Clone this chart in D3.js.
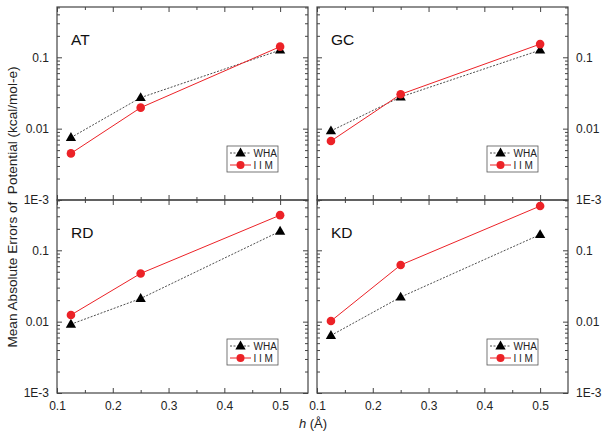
<!DOCTYPE html>
<html><head><meta charset="utf-8">
<script src="https://cdn.jsdelivr.net/npm/d3@7/dist/d3.min.js"></script>
<style>body{margin:0;background:#fff}svg{display:block}text{font-family:"Liberation Sans",Arial,sans-serif}</style>
</head><body>
<svg id="c" width="605" height="438"></svg>
<script>
const hValues = [0.125, 0.25, 0.5];
const panelNames = ["AT", "GC", "RD", "KD"];
const seriesNames = ["WHA", "I I M"];
const whaAT = [0.0075, 0.0272, 0.126];
const iimAT = [0.0045, 0.0197, 0.141];
const whaGC = [0.0093, 0.0278, 0.126];
const iimGC = [0.0067, 0.0303, 0.153];
const whaRD = [0.0092, 0.0211, 0.185];
const iimRD = [0.0124, 0.0474, 0.311];
const whaKD = [0.0064, 0.0221, 0.166];
const iimKD = [0.0102, 0.0622, 0.417];
const xTicks = [0.1, 0.2, 0.3, 0.4, 0.5];
const yTicks = [0.001, 0.01, 0.1];
const yTickLabels = ["1E-3", "0.01", "0.1"];

const whaData = [whaAT, whaGC, whaRD, whaKD];
const iimData = [iimAT, iimGC, iimRD, iimKD];

const svg = d3.select("#c");
const red = "#ec2227";
const frame = "#444";

const cols = [[57, 308], [317, 568]];
const rows = [[7, 200], [200, 393]];

panelNames.forEach((name, i) => {
  const c = i % 2, r = Math.floor(i / 2);
  const x = d3.scaleLinear().domain([0.1, 0.55]).range(cols[c]);
  const y = d3.scaleLog().domain([0.001, 0.507]).range([rows[r][1], rows[r][0]]);
  const g = svg.append("g");
  const x0 = cols[c][0], x1 = cols[c][1], y0 = rows[r][0], y1 = rows[r][1];

  const xMinor = d3.range(0.15, 0.55, 0.1);
  const minorY = y.ticks().filter(v => yTicks.every(t => Math.abs(v - t) / t > 1e-6));

  function addAxis(axisFn, scale, pos, major, minor, labels, fmt) {
    const a1 = g.append("g").attr("transform", pos);
    a1.call(axisFn(scale).tickValues(minor).tickSize(-3).tickFormat(""));
    const a2 = g.append("g").attr("transform", pos);
    a2.call(axisFn(scale).tickValues(major).tickSize(-5).tickPadding(8).tickFormat(labels ? fmt : ""));
    [a1, a2].forEach(a => {
      a.select(".domain").remove();
      a.selectAll(".tick line").attr("stroke", frame).attr("stroke-width", 1);
      a.selectAll(".tick text").attr("font-size", 12).attr("fill", "#222")
        .attr("font-family", '"Liberation Sans",Arial,sans-serif');
    });
    return a2;
  }
  const fmtX = d => d3.format(".1f")(d);
  const fmtY = d => yTickLabels[yTicks.indexOf(d)];
  addAxis(d3.axisBottom, x, `translate(0,${y1})`, xTicks, xMinor, r === 1, fmtX);
  addAxis(d3.axisTop, x, `translate(0,${y0})`, xTicks, xMinor, false, fmtX);
  addAxis(d3.axisLeft, y, `translate(${x0},0)`, yTicks, minorY, c === 0, fmtY);
  addAxis(d3.axisRight, y, `translate(${x1},0)`, yTicks, minorY, c === 1, fmtY);

  g.append("rect").attr("x", x0).attr("y", y0).attr("width", x1 - x0).attr("height", y1 - y0)
    .attr("fill", "none").attr("stroke", frame).attr("stroke-width", 1.2);

  g.append("text").attr("x", x0 + 14).attr("y", y0 + 38).attr("font-size", 15.5).attr("fill", "#111").text(name);

  const line = d3.line().x((d, k) => x(hValues[k])).y(d => y(d));
  g.append("path").datum(whaData[i]).attr("d", line).attr("fill", "none")
    .attr("stroke", "#222").attr("stroke-width", 0.8).attr("stroke-dasharray", "2,1.5");
  g.append("path").datum(iimData[i]).attr("d", line).attr("fill", "none")
    .attr("stroke", red).attr("stroke-width", 1);
  const tri = d3.symbol().type(d3.symbolTriangle).size(46);
  g.selectAll(".tri").data(whaData[i]).join("path")
    .attr("transform", (d, k) => `translate(${x(hValues[k])},${y(d) + 0.5})`)
    .attr("d", tri).attr("fill", "#000");
  g.selectAll(".cir").data(iimData[i]).join("circle")
    .attr("cx", (d, k) => x(hValues[k])).attr("cy", d => y(d)).attr("r", 4.3).attr("fill", red);

  const lx = x1 - 81, ly = y1 - 54;
  const lg = g.append("g").attr("transform", `translate(${lx},${ly})`);
  lg.append("rect").attr("width", 51).attr("height", 26).attr("fill", "#fff").attr("stroke", "#555").attr("stroke-width", 0.8);
  lg.append("line").attr("x1", 3).attr("x2", 24).attr("y1", 7).attr("y2", 7)
    .attr("stroke", "#222").attr("stroke-width", 0.8).attr("stroke-dasharray", "2,1.5");
  lg.append("path").attr("transform", "translate(13.5,7.5)").attr("d", tri).attr("fill", "#000");
  lg.append("line").attr("x1", 3).attr("x2", 24).attr("y1", 19).attr("y2", 19).attr("stroke", red).attr("stroke-width", 1);
  lg.append("circle").attr("cx", 13.5).attr("cy", 19).attr("r", 4).attr("fill", red);
  lg.append("text").attr("x", 26.5).attr("y", 10.5).attr("font-size", 10).attr("fill", "#222").text(seriesNames[0]);
  lg.append("text").attr("x", 26.5).attr("y", 22.5).attr("font-size", 10).attr("fill", "#222").text(seriesNames[1]);
});

svg.append("text").attr("x", 313).attr("y", 428).attr("text-anchor", "middle").attr("font-size", 13).attr("fill", "#222")
  .html('<tspan font-style="italic">h</tspan> (Å)');
svg.append("text").attr("transform", "translate(17,207) rotate(-90)").attr("text-anchor", "middle")
  .attr("font-size", 13.6).attr("fill", "#222").attr("xml:space", "preserve").text("Mean Absolute Errors of  Potential (kcal/mol-e)");
</script>
</body></html>
